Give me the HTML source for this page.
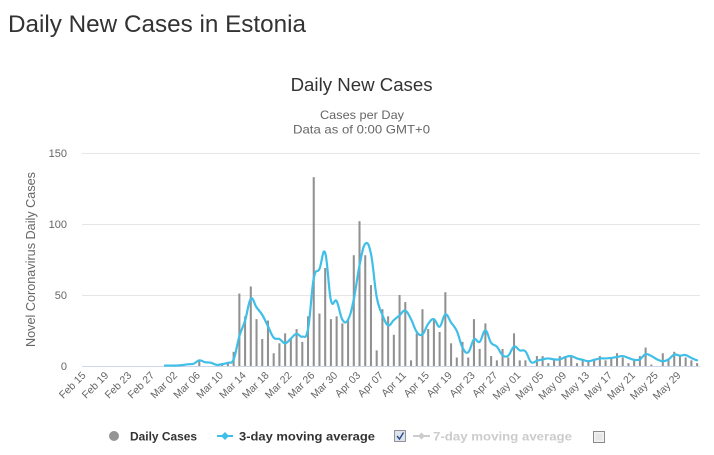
<!DOCTYPE html>
<html>
<head>
<meta charset="utf-8">
<style>
html,body{margin:0;padding:0;background:#fff;}
svg{display:block;font-family:"Liberation Sans",sans-serif;}
</style>
</head>
<body>
<svg width="714" height="455" viewBox="0 0 714 455" xmlns="http://www.w3.org/2000/svg">
<rect width="714" height="455" fill="#fff"/>

<!-- Titles -->
<text x="8" y="32" font-size="24" fill="#333" textLength="298" lengthAdjust="spacingAndGlyphs">Daily New Cases in Estonia</text>
<text x="290.6" y="91" font-size="18" fill="#333" textLength="142" lengthAdjust="spacingAndGlyphs">Daily New Cases</text>
<text x="320" y="119" font-size="12" fill="#666" textLength="84" lengthAdjust="spacingAndGlyphs">Cases per Day</text>
<text x="293" y="133.5" font-size="12" fill="#666" textLength="137" lengthAdjust="spacingAndGlyphs">Data as of 0:00 GMT+0</text>

<!-- Grid -->
<g stroke="#e6e6e6" stroke-width="1">
<line x1="82" y1="153.5" x2="700" y2="153.5"/>
<line x1="82" y1="224.5" x2="700" y2="224.5"/>
<line x1="82" y1="295.5" x2="700" y2="295.5"/>
</g>
<line x1="82" y1="366.5" x2="700" y2="366.5" stroke="#ccd6eb" stroke-width="1"/>

<!-- Y labels -->
<g font-size="11" fill="#666" text-anchor="end">
<text x="67" y="157">150</text>
<text x="67" y="228">100</text>
<text x="67" y="299">50</text>
<text x="67" y="370">0</text>
</g>
<text transform="translate(35,259.5) rotate(-90)" text-anchor="middle" font-size="12.5" fill="#666" textLength="175" lengthAdjust="spacingAndGlyphs">Novel Coronavirus Daily Cases</text>

<!-- Bars -->
<g transform="translate(84.86,366) scale(5.722,-1.42)" fill="#919191">
<rect x="19.82" y="0" width="0.36" height="4"/>
<rect x="23.82" y="0" width="0.36" height="2"/>
<rect x="24.82" y="0" width="0.36" height="2"/>
<rect x="25.82" y="0" width="0.36" height="10"/>
<rect x="26.82" y="0" width="0.36" height="51"/>
<rect x="27.82" y="0" width="0.36" height="35"/>
<rect x="28.82" y="0" width="0.36" height="56"/>
<rect x="29.82" y="0" width="0.36" height="33"/>
<rect x="30.82" y="0" width="0.36" height="19"/>
<rect x="31.82" y="0" width="0.36" height="32"/>
<rect x="32.82" y="0" width="0.36" height="9"/>
<rect x="33.82" y="0" width="0.36" height="16"/>
<rect x="34.82" y="0" width="0.36" height="23"/>
<rect x="35.82" y="0" width="0.36" height="19"/>
<rect x="36.82" y="0" width="0.36" height="26"/>
<rect x="37.82" y="0" width="0.36" height="17"/>
<rect x="38.82" y="0" width="0.36" height="35"/>
<rect x="39.82" y="0" width="0.36" height="133"/>
<rect x="40.82" y="0" width="0.36" height="37"/>
<rect x="41.82" y="0" width="0.36" height="69"/>
<rect x="42.82" y="0" width="0.36" height="33"/>
<rect x="43.82" y="0" width="0.36" height="35"/>
<rect x="44.82" y="0" width="0.36" height="30"/>
<rect x="45.82" y="0" width="0.36" height="33"/>
<rect x="46.82" y="0" width="0.36" height="78"/>
<rect x="47.82" y="0" width="0.36" height="102"/>
<rect x="48.82" y="0" width="0.36" height="78"/>
<rect x="49.82" y="0" width="0.36" height="57"/>
<rect x="50.82" y="0" width="0.36" height="11"/>
<rect x="51.82" y="0" width="0.36" height="40"/>
<rect x="52.82" y="0" width="0.36" height="35"/>
<rect x="53.82" y="0" width="0.36" height="22"/>
<rect x="54.82" y="0" width="0.36" height="50"/>
<rect x="55.82" y="0" width="0.36" height="45"/>
<rect x="56.82" y="0" width="0.36" height="4"/>
<rect x="57.82" y="0" width="0.36" height="23"/>
<rect x="58.82" y="0" width="0.36" height="40"/>
<rect x="59.82" y="0" width="0.36" height="26"/>
<rect x="60.82" y="0" width="0.36" height="33"/>
<rect x="61.82" y="0" width="0.36" height="24"/>
<rect x="62.82" y="0" width="0.36" height="52"/>
<rect x="63.82" y="0" width="0.36" height="16"/>
<rect x="64.82" y="0" width="0.36" height="6"/>
<rect x="65.82" y="0" width="0.36" height="17"/>
<rect x="66.82" y="0" width="0.36" height="6"/>
<rect x="67.82" y="0" width="0.36" height="33"/>
<rect x="68.82" y="0" width="0.36" height="12"/>
<rect x="69.82" y="0" width="0.36" height="30"/>
<rect x="70.82" y="0" width="0.36" height="7"/>
<rect x="71.82" y="0" width="0.36" height="4"/>
<rect x="72.82" y="0" width="0.36" height="12"/>
<rect x="73.82" y="0" width="0.36" height="6"/>
<rect x="74.82" y="0" width="0.36" height="23"/>
<rect x="75.82" y="0" width="0.36" height="4"/>
<rect x="76.82" y="0" width="0.36" height="4"/>
<rect x="78.82" y="0" width="0.36" height="7"/>
<rect x="79.82" y="0" width="0.36" height="7"/>
<rect x="80.82" y="0" width="0.36" height="2"/>
<rect x="81.82" y="0" width="0.36" height="5"/>
<rect x="82.82" y="0" width="0.36" height="7"/>
<rect x="83.82" y="0" width="0.36" height="7"/>
<rect x="84.82" y="0" width="0.36" height="7"/>
<rect x="85.82" y="0" width="0.36" height="2"/>
<rect x="86.82" y="0" width="0.36" height="4"/>
<rect x="87.82" y="0" width="0.36" height="4"/>
<rect x="88.82" y="0" width="0.36" height="5"/>
<rect x="89.82" y="0" width="0.36" height="7"/>
<rect x="90.82" y="0" width="0.36" height="4"/>
<rect x="91.82" y="0" width="0.36" height="6"/>
<rect x="92.82" y="0" width="0.36" height="9"/>
<rect x="93.82" y="0" width="0.36" height="6"/>
<rect x="94.82" y="0" width="0.36" height="2"/>
<rect x="95.82" y="0" width="0.36" height="5"/>
<rect x="96.82" y="0" width="0.36" height="7"/>
<rect x="97.82" y="0" width="0.36" height="13"/>
<rect x="98.82" y="0" width="0.36" height="1"/>
<rect x="100.82" y="0" width="0.36" height="9"/>
<rect x="101.82" y="0" width="0.36" height="5"/>
<rect x="102.82" y="0" width="0.36" height="10"/>
<rect x="103.82" y="0" width="0.36" height="7"/>
<rect x="104.82" y="0" width="0.36" height="6"/>
<rect x="105.82" y="0" width="0.36" height="4"/>
<rect x="106.82" y="0" width="0.36" height="2"/>
</g>

<!-- 3-day moving average line (smoothed) -->
<g transform="translate(84.86,366) scale(5.722,-1.42)">
<path fill="none" stroke="#3fbfe8" stroke-width="2.2" stroke-linejoin="round" stroke-linecap="round" vector-effect="non-scaling-stroke"
d="M14,0.3 C14.4,0.3 14.6,0.3 15,0.3
S15.6,0.24 16,0.3 S16.6,0.42 17,0.6 S17.6,1.0 18,1.2 S18.6,1.04 19,1.6 S19.6,3.78 20,4
S20.6,3.04 21,2.7 S21.6,2.68 22,2.3 S22.6,1.0 23,0.8 S23.6,1.0 24,1.3 S24.6,1.63 25,2.3
S25.6,0.93 26,4.67 S26.6,15.53 27,21 S27.6,26.73 28,32 S28.6,45.46 29,47.33 S29.6,43.6 30,41.33
S30.6,38.67 31,36 S31.6,31.2 32,28 S32.6,21.8 33,20 S33.6,19.8 34,19 S34.6,15.93 35,16
S35.6,18.0 36,19.33 S36.6,22.4 37,22.67 S37.6,20.0 38,20.67 S38.6,17.8 39,26 S39.6,53.2 40,61.67
S40.6,64.73 41,68.33 S41.6,84.07 42,79.67 S42.6,53.13 43,46.33 S43.6,48.4 44,45.67 S44.6,35.27 45,32.67
S45.6,29.8 46,32.67 S46.6,39.33 47,47 S47.6,63.2 48,71 S48.6,84.4 49,86 S49.6,86.47 50,79
S50.6,57.27 51,48.67 S51.6,40 52,36 S52.6,29.4 53,28.67 S53.6,30.93 54,32.33 S54.6,34.34 55,35.67
S55.6,39.53 56,39 S56.6,36 57,33 S57.6,26.13 58,24 S58.6,21.2 59,22.33 S59.6,27.54 60,29.67
S60.6,33.4 61,33 S61.6,27.0 62,27.67 S62.6,35.73 63,36.33 S63.6,33.0 64,30.67 S64.6,28.2 65,24.67
S65.6,16.0 66,13 S66.6,8.54 67,9.67 S67.6,17.2 68,18.67 S68.6,15.73 69,17 S69.6,25.13 70,25
S70.6,18.6 71,16.33 S71.6,15.4 72,13.67 S72.6,8.94 73,7.67 S73.6,6.13 74,7.33 S74.6,12.94 75,13.67
S75.6,11.67 76,11 S76.6,12.0 77,10.33 S77.6,4.0 78,2.67 S78.6,3.27 79,3.67 S79.6,4.34 80,4.67
S80.6,5.33 81,5.33 S81.6,4.8 82,4.67 S82.6,4.34 83,4.67 S83.6,5.86 84,6.33 S84.6,7.2 85,7
S85.6,5.86 86,5.33 S86.6,4.73 87,4.33 S87.6,3.33 88,3.33 S88.6,3.93 89,4.33 S89.6,5.13 90,5.33
S90.6,5.26 91,5.33 S91.6,5.47 92,5.67 S92.6,6.06 93,6.33 S93.6,7.13 94,7 S94.6,6.2 95,5.67
S95.6,4.53 96,4.33 S96.6,3.87 97,4.67 S97.6,7.86 98,8.33 S98.6,7.73 99,7 S99.6,5.4 100,4.67
S100.6,3.33 101,3.33 S101.6,3.74 102,4.67 S102.6,7.47 103,8 S103.6,7.4 104,7.33 S104.6,8.0 105,7.67
S105.6,6.4 106,5.67 S106.6,4.33 107,4"/>
</g>

<!-- X labels -->
<g font-size="10.5" fill="#666" text-anchor="end">
<text transform="translate(86.4,376) rotate(-45)">Feb 15</text>
<text transform="translate(109.2,376) rotate(-45)">Feb 19</text>
<text transform="translate(132.1,376) rotate(-45)">Feb 23</text>
<text transform="translate(155.0,376) rotate(-45)">Feb 27</text>
<text transform="translate(177.9,376) rotate(-45)">Mar 02</text>
<text transform="translate(200.8,376) rotate(-45)">Mar 06</text>
<text transform="translate(223.7,376) rotate(-45)">Mar 10</text>
<text transform="translate(246.6,376) rotate(-45)">Mar 14</text>
<text transform="translate(269.5,376) rotate(-45)">Mar 18</text>
<text transform="translate(292.4,376) rotate(-45)">Mar 22</text>
<text transform="translate(315.2,376) rotate(-45)">Mar 26</text>
<text transform="translate(338.1,376) rotate(-45)">Mar 30</text>
<text transform="translate(361.0,376) rotate(-45)">Apr 03</text>
<text transform="translate(383.9,376) rotate(-45)">Apr 07</text>
<text transform="translate(406.8,376) rotate(-45)">Apr 11</text>
<text transform="translate(429.7,376) rotate(-45)">Apr 15</text>
<text transform="translate(452.6,376) rotate(-45)">Apr 19</text>
<text transform="translate(475.5,376) rotate(-45)">Apr 23</text>
<text transform="translate(498.3,376) rotate(-45)">Apr 27</text>
<text transform="translate(521.2,376) rotate(-45)">May 01</text>
<text transform="translate(544.1,376) rotate(-45)">May 05</text>
<text transform="translate(567.0,376) rotate(-45)">May 09</text>
<text transform="translate(589.9,376) rotate(-45)">May 13</text>
<text transform="translate(612.8,376) rotate(-45)">May 17</text>
<text transform="translate(635.7,376) rotate(-45)">May 21</text>
<text transform="translate(658.6,376) rotate(-45)">May 25</text>
<text transform="translate(681.4,376) rotate(-45)">May 29</text>
</g>

<!-- Legend -->
<circle cx="114" cy="436" r="5" fill="#949494"/>
<text x="130" y="440.5" font-size="12" font-weight="bold" fill="#333" textLength="67" lengthAdjust="spacingAndGlyphs">Daily Cases</text>

<line x1="217" y1="436" x2="233" y2="436" stroke="#3fbfe8" stroke-width="2"/>
<path d="M225 432 L229 436 L225 440 L221 436 Z" fill="#3fbfe8"/>
<text x="239" y="440.5" font-size="12" font-weight="bold" fill="#333" textLength="136" lengthAdjust="spacingAndGlyphs">3-day moving average</text>

<rect x="394.5" y="430.5" width="11" height="11" fill="#dde4ee" stroke="#333" stroke-width="1" stroke-dasharray="1,1"/>
<path d="M397 436 L399.5 439 L403.5 432.5" fill="none" stroke="#2b4a8a" stroke-width="1.4"/>

<line x1="413" y1="436" x2="430" y2="436" stroke="#cccccc" stroke-width="2"/>
<path d="M421.5 432.5 L425 436 L421.5 439.5 L418 436 Z" fill="#cccccc"/>
<text x="433" y="440.5" font-size="12" font-weight="bold" fill="#cccccc" textLength="139" lengthAdjust="spacingAndGlyphs">7-day moving average</text>

<rect x="593.5" y="431.5" width="11" height="11" fill="#f2f2f2" stroke="#8a8a8a" stroke-width="1"/>
<rect x="595.5" y="433.5" width="7" height="7" fill="#e6e6e6" stroke="none"/>
</svg>
</body>
</html>
